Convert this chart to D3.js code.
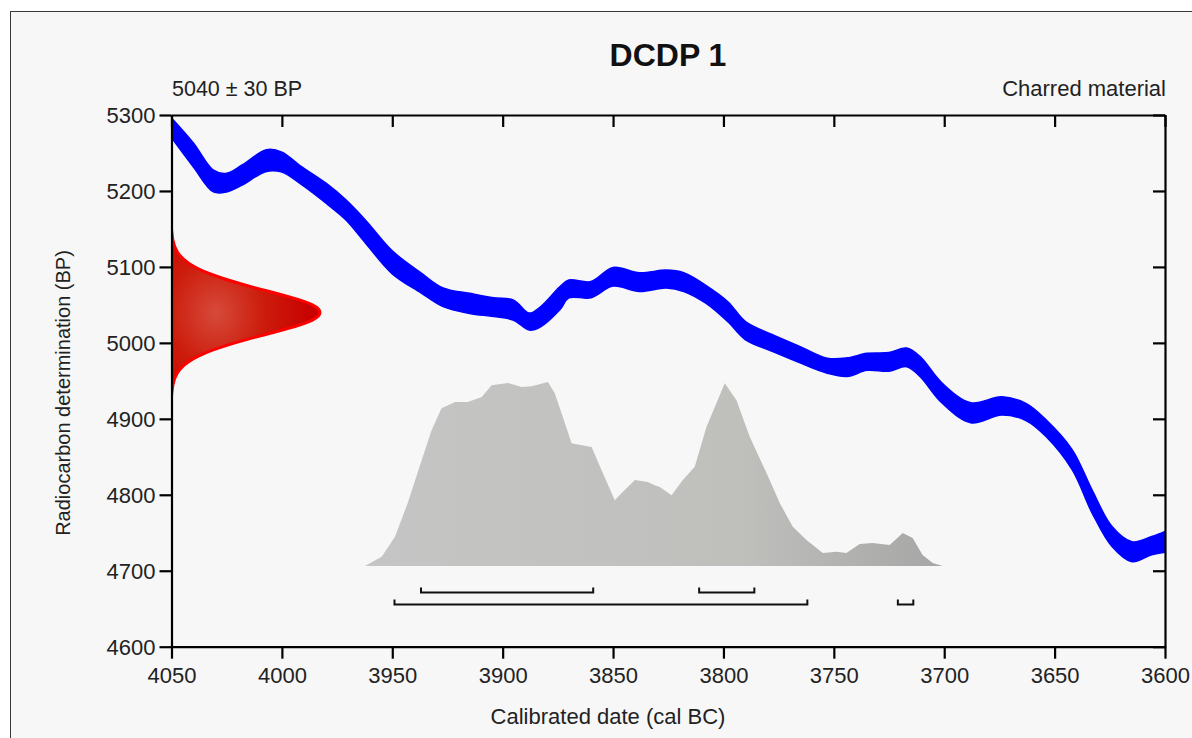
<!DOCTYPE html>
<html>
<head>
<meta charset="utf-8">
<script src="https://cdn.jsdelivr.net/npm/d3@7"></script>
<style>
  html, body { margin: 0; padding: 0; background: #ffffff; }
  svg { display: block; font-family: "Liberation Sans", Arial, sans-serif; }
</style>
</head>
<body>
<svg id="chart" width="1192" height="738"></svg>
<script>
// ---- Data ----
const title = "DCDP 1";
const measurementLabel = "5040 ± 30 BP";
const materialLabel = "Charred material";
const xAxisTitle = "Calibrated date (cal BC)";
const yAxisTitle = "Radiocarbon determination (BP)";

const xTicks = [4050, 4000, 3950, 3900, 3850, 3800, 3750, 3700, 3650, 3600];
const yTicks = [4600, 4700, 4800, 4900, 5000, 5100, 5200, 5300];

// Calibration curve (cal BC year, BP centre, half-width BP)
const curveYears = [4050, 4040, 4031, 4025, 4018, 4007, 4000, 3992, 3980, 3971, 3962, 3950, 3937, 3927, 3915, 3904, 3895, 3888, 3883, 3874, 3870, 3860, 3850, 3838, 3826, 3818, 3808, 3798, 3790, 3778, 3765, 3753, 3744, 3735, 3725, 3717, 3711, 3701, 3688, 3674, 3663, 3654, 3642, 3633, 3624, 3615, 3606, 3600];
const curveBP = [5283, 5247, 5213, 5211, 5221, 5240, 5238, 5222, 5197, 5175, 5146, 5106, 5079, 5060, 5052, 5047, 5043, 5028, 5034, 5059, 5071, 5070, 5087, 5080, 5084, 5080, 5064, 5041, 5016, 5000, 4984, 4970, 4968, 4975, 4975, 4981, 4969, 4934, 4908, 4917, 4909, 4888, 4846, 4791, 4745, 4725, 4733, 4738];
const curveErr = [13, 15.8, 14.3, 12.3, 13.2, 14.3, 13.2, 11.8, 13.2, 13.2, 15.1, 15.1, 13.2, 12.3, 13.2, 12.3, 13.2, 11.2, 13.2, 15.1, 11.8, 10.7, 12.3, 12.3, 11.8, 12.3, 11.8, 13.2, 12, 11, 10.7, 9.9, 12.3, 11.2, 12.3, 12.3, 13.2, 13.2, 13.2, 12, 11.2, 11, 13.2, 15.1, 13.2, 13.2, 12, 13.8];

// Radiocarbon measurement distribution (BP, relative density)
const measBP =      [4930, 4945, 4960, 4975, 4990, 5005, 5020, 5030, 5040, 5050, 5060, 5075, 5090, 5105, 5120, 5135, 5150];
const measDensity = [0, 0.007, 0.03, 0.10, 0.25, 0.50, 0.80, 0.95, 1.0, 0.95, 0.80, 0.50, 0.25, 0.10, 0.03, 0.007, 0];

// Calibrated probability distribution (cal BC year, relative probability %)
const calYears = [3962.4, 3954.8, 3948.8, 3943.0, 3936.7, 3932.2, 3927.7, 3921.6, 3915.8, 3909.5, 3905.0, 3897.6, 3891.4, 3886.9, 3879.5, 3876.4, 3871.8, 3868.8, 3859.7, 3855.2, 3849.2, 3846.2, 3840.1, 3834.3, 3831.1, 3828.8, 3823.5, 3818.4, 3813.0, 3807.7, 3799.4, 3794.1, 3788.1, 3780.5, 3774.5, 3768.6, 3762.4, 3755.0, 3748.8, 3744.3, 3738.3, 3732.4, 3724.7, 3718.8, 3714.3, 3709.8, 3705.2, 3700.7];
const calProb = [0, 5.0, 15.9, 34.2, 57.5, 73.8, 85.7, 89.1, 89.1, 91.9, 98.2, 99.5, 97.3, 97.7, 100, 93.9, 77.6, 66.7, 64.7, 52.1, 35.8, 39.6, 46.7, 45.7, 43.9, 43.0, 38.5, 46.7, 53.9, 75.6, 99.3, 90.1, 70.2, 50.5, 34.2, 21.3, 14.1, 7.1, 7.8, 7.1, 11.9, 12.5, 11.4, 17.9, 15.2, 6.0, 1.6, 0];

// Highest posterior density ranges
const range68 = [[3937, 3859], [3811, 3786]];
const range95 = [[3949, 3762], [3721, 3714]];

// ---- Layout ----
const svg = d3.select("#chart");
const L = 171.5, R = 1165, T = 115, B = 646.7;

const x = d3.scaleLinear().domain([4050, 3600]).range([L, R]);
const y = d3.scaleLinear().domain([4600, 5300]).range([B, T]);
const probY = d3.scaleLinear().domain([0, 100]).range([566, 382]);
const densX = d3.scaleLinear().domain([0, 1]).range([L, L + 151]);

// background frame
svg.append("rect").attr("x", 10.5).attr("y", 11.5).attr("width", 1220).attr("height", 800)
  .attr("fill", "#f7f7f7").attr("stroke", "#3a3a3a").attr("stroke-width", 1);

const defs = svg.append("defs");
defs.append("clipPath").attr("id", "plotclip").append("rect")
  .attr("x", L).attr("y", T).attr("width", R - L).attr("height", B - T);

const grayGrad = defs.append("linearGradient").attr("id", "grayGrad")
  .attr("x1", "0%").attr("x2", "100%").attr("y1", "0%").attr("y2", "0%");
grayGrad.append("stop").attr("offset", "0%").attr("stop-color", "#c5c5c5");
grayGrad.append("stop").attr("offset", "65%").attr("stop-color", "#bfbfbc");
grayGrad.append("stop").attr("offset", "100%").attr("stop-color", "#a6a6a6");

const redGrad = defs.append("radialGradient").attr("id", "redGrad")
  .attr("cx", "30%").attr("cy", "50%").attr("r", "65%");
redGrad.append("stop").attr("offset", "0%").attr("stop-color", "#d64a3a");
redGrad.append("stop").attr("offset", "50%").attr("stop-color", "#cc1c0c");
redGrad.append("stop").attr("offset", "100%").attr("stop-color", "#c80000");

const plot = svg.append("g").attr("clip-path", "url(#plotclip)");

// calibrated distribution
const calData = calYears.map((yr, i) => ({ yr, p: calProb[i] }));
plot.append("path").datum(calData)
  .attr("fill", "url(#grayGrad)")
  .attr("d", d3.area().x(d => x(d.yr)).y0(probY(0)).y1(d => probY(d.p)).curve(d3.curveLinear));

// calibration curve band
const curveData = curveYears.map((yr, i) => ({ yr, bp: curveBP[i], e: curveErr[i] }));
plot.append("path").datum(curveData)
  .attr("fill", "#0000ff").attr("stroke", "#0000ff").attr("stroke-width", 1.5)
  .attr("d", d3.area().x(d => x(d.yr)).y0(d => y(d.bp - d.e)).y1(d => y(d.bp + d.e)).curve(d3.curveCatmullRom.alpha(0.5)));

// measurement distribution
const measData = measBP.map((bp, i) => ({ bp, d: measDensity[i] }));
plot.append("path").datum(measData)
  .attr("fill", "url(#redGrad)")
  .attr("stroke", "#ff0000").attr("stroke-width", 3).attr("stroke-linejoin", "round")
  .attr("d", d3.area().y(d => y(d.bp)).x0(densX(0)).x1(d => densX(d.d)).curve(d3.curveBasis));

// range bars
function drawRanges(ranges, yy) {
  ranges.forEach(r => {
    const x0 = x(r[0]), x1 = x(r[1]);
    svg.append("path")
      .attr("d", `M${x0},${yy - 5}V${yy}H${x1}V${yy - 5}`)
      .attr("fill", "none").attr("stroke", "#111").attr("stroke-width", 2);
  });
}
drawRanges(range68, 592.5);
drawRanges(range95, 604.5);

// axes
const fontSize = 22;
const gx = svg.append("g").attr("transform", `translate(0,${B})`)
  .call(d3.axisBottom(x).tickValues(xTicks).tickSize(12).tickSizeOuter(0).tickPadding(9).tickFormat(d3.format("d")));
const gxTop = svg.append("g").attr("transform", `translate(0,${T})`)
  .call(d3.axisBottom(x).tickValues(xTicks).tickSize(12).tickSizeOuter(0).tickFormat(""));
const gy = svg.append("g").attr("transform", `translate(${L},0)`)
  .call(d3.axisLeft(y).tickValues(yTicks).tickSize(12).tickSizeOuter(0).tickPadding(4).tickFormat(d3.format("d")));
const gyRight = svg.append("g").attr("transform", `translate(${R},0)`)
  .call(d3.axisLeft(y).tickValues(yTicks).tickSize(12).tickSizeOuter(0).tickFormat(""));

[gx, gxTop, gy, gyRight].forEach(g => {
  g.select(".domain").attr("stroke", "#000").attr("stroke-width", 2.2);
  g.selectAll(".tick line").attr("stroke", "#000").attr("stroke-width", 2.2);
  g.selectAll(".tick text").attr("fill", "#222")
    .style("font-size", fontSize + "px").style("font-family", "'Liberation Sans', Arial, sans-serif");
});
gy.selectAll(".tick text").attr("dy", "0.36em");

// titles
svg.append("text").attr("x", 668).attr("y", 66).attr("text-anchor", "middle")
  .style("font-size", "32px").style("font-weight", "bold").attr("fill", "#111").text(title);
svg.append("text").attr("x", 172).attr("y", 96).attr("text-anchor", "start")
  .style("font-size", "21.5px").attr("fill", "#222").text(measurementLabel);
svg.append("text").attr("x", 1166).attr("y", 96).attr("text-anchor", "end")
  .style("font-size", "22px").attr("fill", "#222").text(materialLabel);
svg.append("text").attr("x", 608).attr("y", 724).attr("text-anchor", "middle")
  .style("font-size", "22px").attr("fill", "#222").text(xAxisTitle);
svg.append("text").attr("transform", "translate(70,393) rotate(-90)").attr("text-anchor", "middle")
  .style("font-size", "20px").attr("fill", "#222").text(yAxisTitle);
</script>
</body>
</html>
